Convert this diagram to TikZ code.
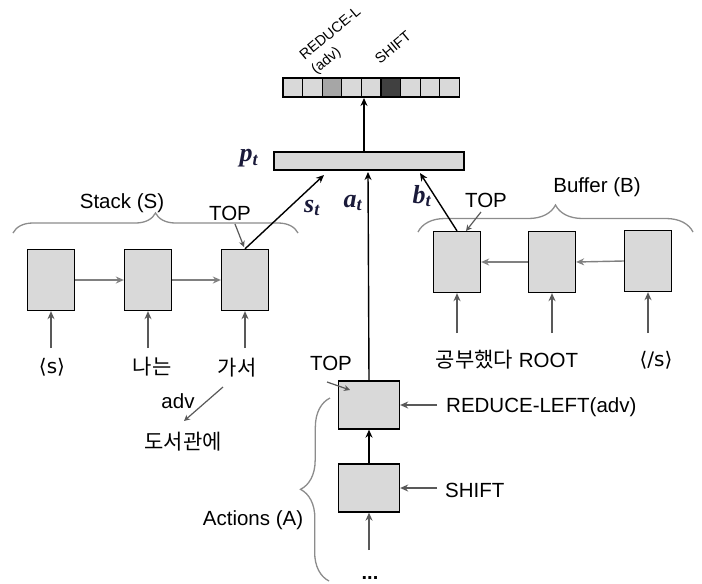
\documentclass[tikz,border=0pt]{standalone}
\usepackage{fontspec}
\setmainfont{Liberation Sans}
\newfontfamily\cjk{Noto Sans CJK KR}
\newfontfamily\dvs{DejaVu Sans}
\newfontfamily\mlbl{Liberation Serif}
\usetikzlibrary{arrows.meta,decorations.pathreplacing}
\definecolor{boxfill}{HTML}{D9D9D9}
\definecolor{midcell}{HTML}{A6A6A6}
\definecolor{darkcell}{HTML}{404040}
\definecolor{chain}{HTML}{808080}
\definecolor{upc}{HTML}{595959}
\definecolor{bracec}{HTML}{8C8C8C}
\definecolor{mathc}{HTML}{1A1A3A}
\tikzset{
  wordbox/.style={draw=black, line width=1.3pt, fill=boxfill, minimum width=47pt, minimum height=61pt, inner sep=0pt},
  actbox/.style={draw=black, line width=1.3pt, fill=boxfill, minimum width=61pt, minimum height=48pt, inner sep=0pt},
  vcell/.style={draw=black, line width=1.1pt, fill=boxfill, minimum width=19.6pt, minimum height=19pt, inner sep=0pt},
  lbl/.style={font=\fontsize{20.5}{23}\selectfont, inner sep=0pt},
  klbl/.style={font=\fontsize{21}{24}\selectfont\cjk, inner sep=0pt},
  small/.style={font=\fontsize{14.5}{18}\selectfont, inner sep=0pt, rotate=40},
  mth/.style={font=\fontsize{26}{28}\selectfont\mlbl\bfseries\itshape, text=mathc, inner sep=0pt},
  blk/.style={draw=black, line width=1.4pt, -{Stealth[length=8pt,width=7pt]}},
  gry/.style={draw=chain, line width=1.4pt, -{Stealth[length=8pt,width=7pt]}},
  upa/.style={draw=upc, line width=1.4pt, -{Stealth[length=8pt,width=7pt]}},
  topa/.style={draw=upc, line width=1.2pt, -{Stealth[length=6pt,width=6pt]}},
  brc/.style={draw=bracec, line width=1.3pt, decorate, decoration={brace, amplitude=#1}},
}
\begin{document}
\begin{tikzpicture}[x=1pt,y=-1pt]
\useasboundingbox (0,0) rectangle (702,584);
% output vector
\foreach \i/\c in {1/boxfill,2/boxfill,3/midcell,4/boxfill,5/boxfill,6/darkcell,7/boxfill,8/boxfill,9/boxfill}{
  \node[vcell, fill=\c] (c\i) at ({283+19.6*(\i-0.5)},87.5) {};
}
\node[small, align=left, anchor=west] (lr) at (308,65) {REDUCE-L\\(adv)};
\node[small, anchor=base west] (ls) at (380,65) {SHIFT};
% p_t bar
\node[draw=black, line width=1.3pt, fill=boxfill, minimum width=190pt, minimum height=18pt, inner sep=0pt] (pt) at (369,161) {};
\node[mth] (ptl) at (249,158) {p\textsubscript{t}};
\coordinate (otip) at (364,98);
\coordinate (obase) at (364,152);
\draw[blk] (obase) -- (otip);
% stack
\node[wordbox] (s1) at (51,280) {};
\node[wordbox] (s2) at (148,280) {};
\node[wordbox] (s3) at (245,280) {};
\draw[gry] (s1.east) -- (s2.west);
\draw[gry] (s2.east) -- (s3.west);
\foreach \i/\x in {1/51,2/148,3/245}{
  \coordinate (su\i) at (\x,348);
  \draw[upa] (su\i) -- (s\i.south);
}
\draw[brc=20pt] (13,233) -- (298,233);
\node[lbl] (stk) at (122,203) {Stack (S)};
\node[lbl] (stop) at (230,213) {TOP};
\coordinate (stopa) at (235,224);
\coordinate (stopb) at (244,247);
\draw[topa] (stopa) -- (stopb);
\node[lbl, font=\fontsize{20}{23}\selectfont\dvs] (w1) at (52,367) {⟨s⟩};
\node[klbl] (w2) at (152,367) {나는};
\node[klbl] (w3) at (237,368) {가서};
\node[klbl] (w4) at (183,442) {도서관에};
\node[lbl] (advl) at (178,401) {adv};
\coordinate (adva) at (223,387);
\coordinate (advb) at (184,421);
\draw[upa, line width=1.2pt, -{Stealth[length=6pt,width=6pt]}] (adva) -- (advb);
% buffer
\node[wordbox] (b1) at (457,262) {};
\node[wordbox] (b2) at (552,262) {};
\node[wordbox] (b3) at (648,261) {};
\draw[gry] (b2.west) -- (b1.east);
\draw[gry] (b3.west) -- (b2.east);
\foreach \i/\x in {1/457,2/552,3/648}{
  \coordinate (bu\i) at (\x,333);
  \draw[upa] (bu\i) -- (b\i.south);
}
\draw[brc=27pt] (418,232) -- (693,232);
\node[lbl] (buf) at (597,187) {Buffer (B)};
\node[lbl] (btop) at (486,200) {TOP};
\coordinate (btopa) at (481,212);
\coordinate (btopb) at (466,231);
\draw[topa] (btopa) -- (btopb);
\node[anchor=base, inner sep=0pt] (w5) at (507,367) {\fontsize{21}{24}\selectfont\cjk 공부했다\fontsize{20.5}{23}\selectfont\rmfamily\ ROOT};
\node[lbl, font=\fontsize{20}{23}\selectfont\dvs] (w6) at (656,360) {⟨/s⟩};
% actions
\node[actbox] (a1) at (369,405) {};
\node[actbox] (a2) at (369,488) {};
\draw[blk] (a2.north) -- (a1.south);
\coordinate (abot) at (369,550);
\draw[upa] (abot) -- (a2.south);
\node[lbl, anchor=west] (rl) at (446,407) {REDUCE-LEFT(adv)};
\coordinate (rla) at (437,405);
\draw[upa] (rla) -- (a1.east);
\node[lbl, anchor=west] (sh) at (445,490) {SHIFT};
\coordinate (sha) at (437,488);
\draw[upa] (sha) -- (a2.east);
\node[lbl] (atop) at (331,363) {TOP};
\coordinate (atopa) at (327,382);
\coordinate (atopb) at (350,390);
\draw[topa] (atopa) -- (atopb);
\draw[brc=29pt] (329,581) -- (330,398);
\node[lbl] (act) at (253,520) {Actions (A)};
\node[lbl, anchor=base, font=\fontsize{20}{23}\selectfont\bfseries] (dots) at (370,579) {...};
% inputs to p_t
\coordinate (stip) at (324,175);
\coordinate (atip) at (368,172);
\coordinate (btip) at (420,173);
\draw[blk] (s3.north) -- (stip);
\draw[blk] (a1.north) -- (atip);
\draw[blk] (b1.north) -- (btip);
\node[mth] (stl) at (312,208) {s\textsubscript{t}};
\node[mth] (atl) at (353,203) {a\textsubscript{t}};
\node[mth] (btl) at (422,196) {b\textsubscript{t}};
\end{tikzpicture}
\end{document}
